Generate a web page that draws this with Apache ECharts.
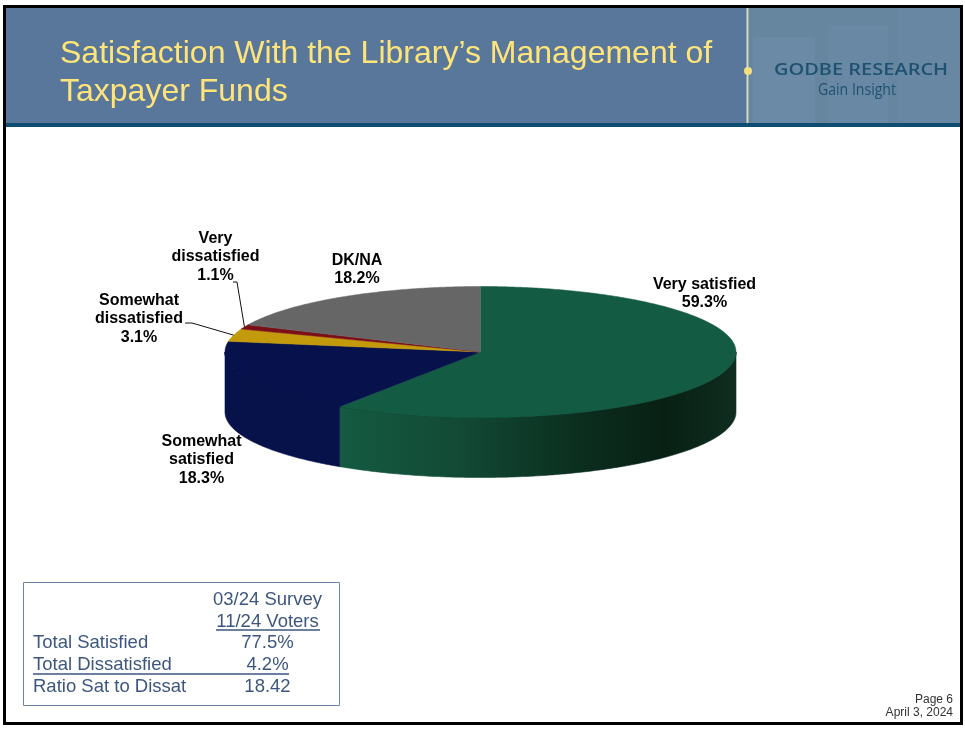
<!DOCTYPE html>
<html>
<head>
<meta charset="utf-8">
<style>
  html, body { margin: 0; padding: 0; background: #fff; }
  #chart { width: 965px; height: 730px; }
</style>
<script src="https://cdn.jsdelivr.net/npm/echarts@6/dist/echarts.min.js"></script>
</head>
<body>
<div id="chart"></div>
<script>
  // slices run clockwise from 12 o'clock
  var categories = ['Very satisfied', 'Somewhat satisfied', 'Somewhat dissatisfied', 'Very dissatisfied', 'DK/NA']
  var values = [59.3, 18.3, 3.1, 1.1, 18.2]
  var labelLines = [['Very satisfied'], ['Somewhat', 'satisfied'], ['Somewhat', 'dissatisfied'], ['Very', 'dissatisfied'], ['DK/NA']]

  var tableHead = ['03/24 Survey', '11/24 Voters']
  var tableRows = ['Total Satisfied', 'Total Dissatisfied', 'Ratio Sat to Dissat']
  var tableVals = ['77.5%', '4.2%', '18.42']

  var titleText = 'Satisfaction With the Library\u2019s Management of\nTaxpayer Funds'
  var pageText = 'Page 6'
  var dateText = 'April 3, 2024'

  // layout of the tilted pie
  var cx = 480.5, cy = 352, rx = 255.5, ry = 65.5, depth = 60
  var topColors = ['#135b42', '#07114c', '#c39a0b', '#7b0f16', '#666666']
  var labelPos = [[704.5, 284], [201.5, 441], [139, 300], [215.5, 238], [357, 260]]
  // elbows of the two leader lines, by slice index
  var leaders = {
    2: [[192, 323], [185, 323]],
    3: [[237, 282], [233, 282]]
  }
  var sideFills = {
    0: {
      type: 'linear', x: 339, y: 0, x2: 736, y2: 0, global: true,
      colorStops: [
        {offset: 0, color: '#155a42'},
        {offset: 0.3, color: '#124a35'},
        {offset: 0.62, color: '#0b2d1e'},
        {offset: 0.82, color: '#082014'},
        {offset: 1, color: '#0f2d20'}
      ]
    },
    1: '#07124a'
  }

  var total = values.reduce(function(a, b) { return a + b }, 0)

  function angleAt(i) {
    let sum = 0
    for (let j = 0; j < i; j ++) {
      sum += values[j]
    }
    return sum / total * Math.PI * 2
  }

  function pointAt(a, dy) {
    return [cx + rx * Math.sin(a), cy - ry * Math.cos(a) + (dy || 0)]
  }

  function arcPoints(a0, a1, dy) {
    let pts = []
    let steps = Math.max(2, Math.ceil(Math.abs(a1 - a0) / 0.01))
    for (let i = 0; i <= steps; i ++) {
      pts.push(pointAt(a0 + (a1 - a0) * i / steps, dy))
    }
    return pts
  }

  function renderSlice(params) {
    let i = params.dataIndex
    let a0 = angleAt(i)
    let a1 = angleAt(i + 1)
    let children = []

    // rim, only the part on the front half shows
    let s0 = Math.max(a0, Math.PI / 2)
    let s1 = Math.min(a1, Math.PI * 1.5)
    if (s1 > s0) {
      let rim = arcPoints(s0, s1, 0).concat(arcPoints(s1, s0, depth))
      children.push({
        type: 'polygon',
        shape: {points: rim},
        style: {fill: sideFills[i] || topColors[i], stroke: sideFills[i] || topColors[i], lineWidth: 0.6}
      })
      children.push({
        type: 'polyline',
        shape: {points: arcPoints(s0, s1, 0)},
        style: {fill: null, stroke: i === 0 ? '#0d3f2c' : '#050c36', lineWidth: 1}
      })
    }

    // top face
    children.push({
      type: 'polygon',
      shape: {points: [[cx, cy]].concat(arcPoints(a0, a1, 0))},
      style: {fill: topColors[i], stroke: topColors[i], lineWidth: 0.5}
    })

    // leader line from the middle of the slice edge
    if (leaders[i]) {
      children.push({
        type: 'polyline',
        z2: 5,
        shape: {points: [pointAt((a0 + a1) / 2)].concat(leaders[i])},
        style: {fill: null, stroke: '#111', lineWidth: 1}
      })
    }

    // label
    let lines = labelLines[i].concat(values[i].toFixed(1) + '%')
    children.push({
      type: 'text',
      z2: 6,
      x: labelPos[i][0],
      y: labelPos[i][1] - 9,
      style: {
        text: lines.join('\n'),
        fill: '#000',
        font: 'bold 16px "Liberation Sans", Arial, sans-serif',
        lineHeight: 18.5,
        align: 'center',
        verticalAlign: 'top'
      }
    })

    return {type: 'group', children: children}
  }

  function tableElements() {
    let font = '18.5px "Liberation Sans", Arial, sans-serif'
    let color = '#3d5680'
    let els = [{
      type: 'rect',
      shape: {x: 23.5, y: 582.5, width: 316, height: 123},
      style: {fill: '#fff', stroke: '#6f84a3', lineWidth: 1}
    }]
    function addText(text, x, y, align) {
      els.push({
        type: 'text', x: x, y: y, z: 2,
        style: {text: text, fill: color, font: font, align: align, verticalAlign: 'middle'}
      })
    }
    function addRule(x1, x2, y) {
      els.push({
        type: 'line', z: 2,
        shape: {x1: x1, y1: y, x2: x2, y2: y},
        style: {stroke: color, lineWidth: 1.5}
      })
    }
    tableHead.forEach(function(t, i) {
      addText(t, 267.5, 600 + i * 22, 'center')
    })
    tableRows.forEach(function(t, i) {
      addText(t, 33, 643 + i * 22, 'left')
      addText(tableVals[i], 267.5, 643 + i * 22, 'center')
    })
    addRule(216, 320, 630)
    addRule(33, 289, 674)
    return els
  }

  function headerElements() {
    let els = [
      {type: 'rect', shape: {x: 3, y: 8, width: 958, height: 115}, style: {fill: '#58779b'}},
      {type: 'rect', shape: {x: 749, y: 8, width: 212, height: 115}, style: {fill: '#6686a0'}},
      {type: 'rect', shape: {x: 753, y: 37, width: 62, height: 86}, style: {fill: '#6b8aa5'}},
      {type: 'rect', shape: {x: 828, y: 25, width: 60, height: 98}, style: {fill: '#6988a3'}},
      {type: 'rect', shape: {x: 898, y: 8, width: 62, height: 115}, style: {fill: '#6887a2'}},
      {type: 'rect', shape: {x: 3, y: 123, width: 958, height: 4}, style: {fill: '#0f4c72'}},
      {type: 'line', shape: {x1: 747.5, y1: 8, x2: 747.5, y2: 123}, style: {stroke: '#d8dcc0', lineWidth: 2}},
      {type: 'circle', shape: {cx: 748, cy: 71, r: 4}, style: {fill: '#f3de7c'}},
      {
        type: 'text', x: 861, y: 71, scaleX: 1.29,
        style: {text: 'GODBE RESEARCH', fill: '#1f5272', font: '600 15.5px "Open Sans", sans-serif', align: 'center', verticalAlign: 'middle'}
      },
      {
        type: 'text', x: 857, y: 90, scaleX: 0.88,
        style: {text: 'Gain Insight', fill: '#1f5272', font: '16px "Open Sans", sans-serif', align: 'center', verticalAlign: 'middle'}
      }
    ]
    return els
  }

  function footerElements() {
    let font = '12px "Liberation Sans", Arial, sans-serif'
    return [
      {type: 'text', x: 953, y: 700, style: {text: pageText, fill: '#333', font: font, align: 'right', verticalAlign: 'middle'}},
      {type: 'text', x: 953, y: 713, style: {text: dateText, fill: '#333', font: font, align: 'right', verticalAlign: 'middle'}},
      {type: 'rect', z: 5, shape: {x: 4.5, y: 6.5, width: 957, height: 717}, style: {fill: null, stroke: '#000', lineWidth: 3}}
    ]
  }

  var chart = echarts.init(document.getElementById('chart'))
  chart.setOption({
    animation: false,
    backgroundColor: '#fff',
    title: {
      text: titleText,
      left: 55,
      top: 30,
      z: 10,
      textStyle: {
        color: '#ffe47a',
        fontFamily: '"Liberation Sans", Arial, sans-serif',
        fontWeight: 'normal',
        fontSize: 32,
        lineHeight: 38
      }
    },
    graphic: {elements: headerElements().concat(tableElements(), footerElements())},
    series: [{
      type: 'custom',
      coordinateSystem: 'none',
      renderItem: renderSlice,
      data: values.map(function(v, i) {
        return {name: categories[i], value: v}
      }),
      z: 3
    }]
  })
</script>
</body>
</html>
